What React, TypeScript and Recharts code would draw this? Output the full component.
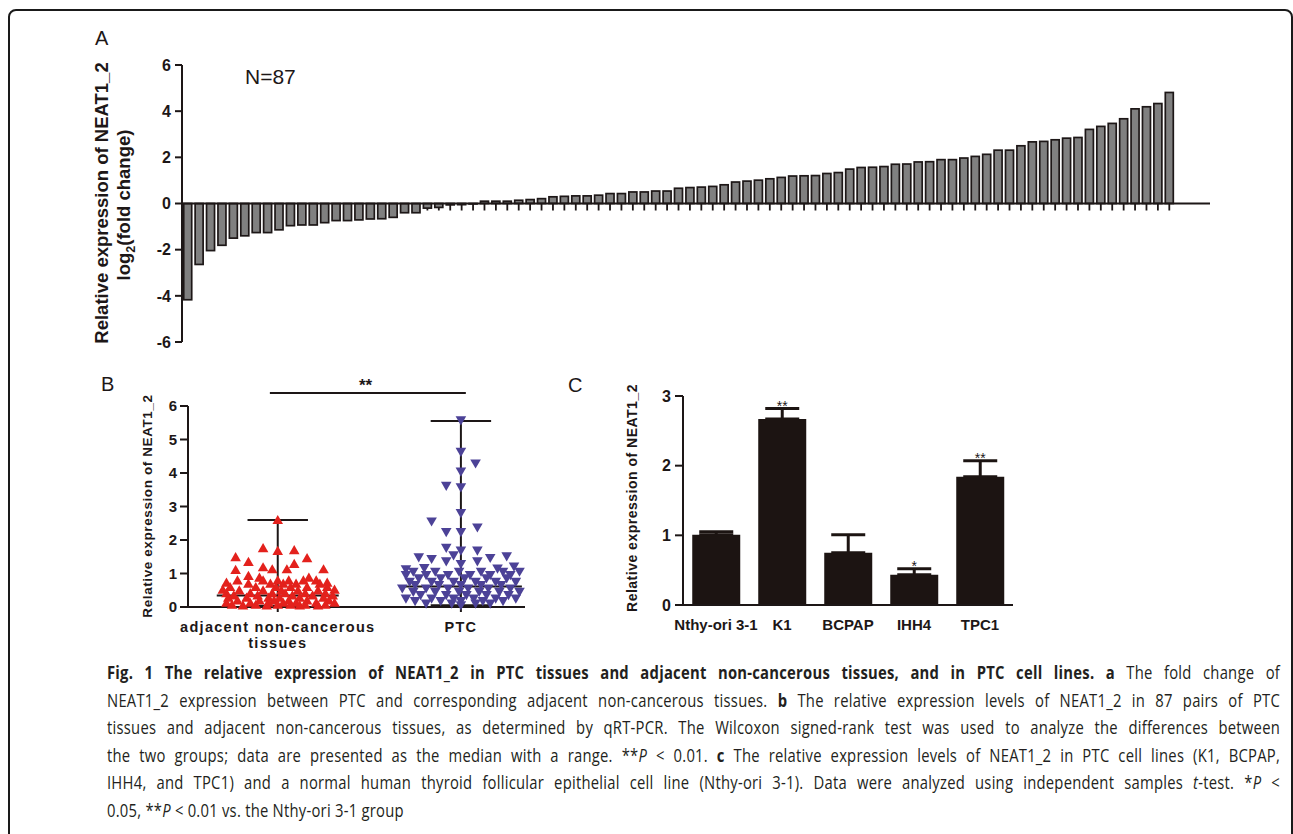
import React from 'react'
import {
  BarChart,
  Bar,
  XAxis,
  YAxis,
  ReferenceLine,
  ScatterChart,
  Scatter,
  ErrorBar,
  LabelList,
} from 'recharts'

const FONT = '"Liberation Sans", Arial, Helvetica, sans-serif'
const INK = '#1d1717'

// A: log2(fold change) of NEAT1_2, PTC vs adjacent tissue, sorted
const foldChanges = [
  -4.17, -2.64, -2.04, -1.81, -1.5, -1.4, -1.26, -1.26, -1.14, -0.96,
  -0.93, -0.93, -0.83, -0.74, -0.74, -0.71, -0.67, -0.66, -0.6, -0.4,
  -0.4, -0.2, -0.17, -0.06, -0.05, -0.02,
  0.1, 0.1, 0.1, 0.14, 0.17, 0.21, 0.29, 0.31, 0.33, 0.33,
  0.36, 0.43, 0.43, 0.5, 0.5, 0.54, 0.54, 0.66, 0.69, 0.71,
  0.74, 0.81, 0.93, 0.97, 1.01, 1.07, 1.13, 1.19, 1.2, 1.21,
  1.3, 1.34, 1.49, 1.56, 1.57, 1.6, 1.7, 1.71, 1.8, 1.81,
  1.9, 1.9, 1.97, 2.04, 2.13, 2.31, 2.31, 2.5, 2.67, 2.69,
  2.76, 2.83, 2.86, 3.21, 3.34, 3.47, 3.67, 4.1, 4.19, 4.33, 4.81,
]
const foldTicks = [-6, -4, -2, 0, 2, 4, 6]

// B: scatter, [jitter, value] per sample
const groupNames = [['adjacent non-cancerous', 'tissues'], ['PTC']]
const groupMedians = [0.34, 0.61]
const groupRanges = [[0.04, 2.6], [0.05, 5.55]]
const adjacentPoints: [number, number][] = [
  [0, 2.6], [-0.08, 1.76], [0, 1.68], [0.09, 1.7], [-0.23, 1.49], [-0.16, 1.35], [0.16, 1.46],
  [-0.23, 1.11], [-0.08, 1.19], [-0.03, 1.13], [0.05, 1.13], [0.09, 1.29], [0.25, 1.13], [-0.16, 0.93],
  [-0.1, 0.88], [0.17, 0.88],
  [-0.22, 0.8], [-0.08, 0.8], [0, 0.8], [0.06, 0.8], [0.14, 0.8], [0.21, 0.8],
  [-0.28, 0.73], [0.27, 0.73],
  [-0.16, 0.7], [-0.04, 0.7], [0.03, 0.7], [0.1, 0.7], [0.23, 0.7],
  [-0.26, 0.6], [-0.12, 0.6], [-0.01, 0.6], [0.07, 0.6], [0.16, 0.6], [0.27, 0.6],
  [-0.3, 0.52], [0.31, 0.52],
  [-0.21, 0.5], [-0.08, 0.5], [0.02, 0.5], [0.11, 0.5], [0.22, 0.5],
  [-0.28, 0.42], [-0.15, 0.42], [-0.03, 0.42], [0.04, 0.42], [0.15, 0.42], [0.26, 0.42],
  [-0.24, 0.35], [-0.11, 0.35], [0.08, 0.35], [0.19, 0.35], [0.3, 0.35],
  [-0.27, 0.28], [-0.17, 0.28], [-0.05, 0.28], [0.01, 0.28], [0.12, 0.28], [0.25, 0.28],
  [-0.22, 0.2], [-0.1, 0.2], [-0.02, 0.2], [0.06, 0.2], [0.16, 0.2], [0.28, 0.2],
  [-0.28, 0.13], [-0.15, 0.13], [-0.05, 0.13], [0.03, 0.13], [0.1, 0.13], [0.21, 0.13], [0.31, 0.13],
  [-0.25, 0.07], [-0.12, 0.07], [0, 0.07], [0.07, 0.07], [0.15, 0.07], [0.26, 0.07],
  [-0.19, 0.05], [-0.06, 0.05], [0.12, 0.05], [0.22, 0.05],
]
const ptcPoints: [number, number][] = [
  [0, 5.57], [0, 4.63], [0.08, 4.28], [0, 4.04], [-0.08, 3.61], [0, 3.57], [0, 2.8],
  [-0.16, 2.55], [-0.08, 2.23], [0, 2.23], [0.09, 2.37], [-0.08, 1.76], [0, 1.68], [0.09, 1.68],
  [-0.04, 1.54], [-0.23, 1.48], [-0.16, 1.43], [0.09, 1.36], [0.16, 1.46], [0.25, 1.51],
  [-0.08, 1.36], [0, 1.28], [-0.2, 1.16], [0.2, 1.14], [-0.3, 1.12], [0.29, 1.2],
  [-0.26, 1.05], [-0.14, 1.05], [-0.01, 1.05], [0.11, 1.05], [0.23, 1.05], [0.32, 1.05],
  [-0.3, 0.95], [-0.19, 0.95], [-0.07, 0.95], [0.05, 0.95], [0.16, 0.95], [0.27, 0.95],
  [-0.23, 0.85], [-0.11, 0.85], [0.02, 0.85], [0.14, 0.85], [0.25, 0.85],
  [-0.28, 0.75], [-0.16, 0.75], [-0.04, 0.75], [0.08, 0.75], [0.19, 0.75], [0.3, 0.75],
  [-0.25, 0.65], [-0.12, 0.65], [0, 0.65], [0.11, 0.65], [0.22, 0.65],
  [-0.32, 0.55], [-0.19, 0.55], [-0.07, 0.55], [0.04, 0.55], [0.15, 0.55], [0.27, 0.55],
  [-0.26, 0.45], [-0.14, 0.45], [-0.01, 0.45], [0.1, 0.45], [0.21, 0.45], [0.32, 0.45],
  [-0.22, 0.35], [-0.08, 0.35], [0.03, 0.35], [0.14, 0.35], [0.26, 0.35],
  [-0.3, 0.25], [-0.16, 0.25], [-0.04, 0.25], [0.07, 0.25], [0.19, 0.25], [0.3, 0.25],
  [-0.25, 0.17], [-0.11, 0.17], [0, 0.17], [0.12, 0.17], [0.23, 0.17],
  [-0.19, 0.1], [-0.05, 0.1], [0.08, 0.1], [0.16, 0.1],
  [0, 0.05],
]
const scatterTicks = [0, 1, 2, 3, 4, 5, 6]

// C: cell lines, mean + SD (upper only)
const cellLines = ['Nthy-ori 3-1', 'K1', 'BCPAP', 'IHH4', 'TPC1']
const cellMeans = [1.01, 2.67, 0.75, 0.435, 1.84]
const cellErrors = [0.04, 0.15, 0.26, 0.085, 0.23]
const cellStars = ['', '**', '', '*', '**']
const cellTicks = [0, 1, 2, 3]

const foldData = foldChanges.map((fc, i) => ({ id: i + 1, fc }))
const adjacentData = adjacentPoints.map(([j, v]) => ({ x: 1 + j, y: v }))
const ptcData = ptcPoints.map(([j, v]) => ({ x: 2 + j, y: v }))
const cellData = cellLines.map((name, i) => ({
  name,
  mean: cellMeans[i],
  err: [0, cellErrors[i]],
}))

function FoldBar(props: any) {
  const { x, y, width, height, payload } = props
  const top = Math.min(y, y + height)
  const h = Math.abs(height)
  const base = payload.fc >= 0 ? top + h : top
  const cx = x + width / 2
  return (
    <g>
      <line x1={cx} x2={cx} y1={base} y2={base + 7} stroke={INK} strokeWidth={1.8} />
      <rect x={x} y={top} width={width} height={h} fill="#808080" stroke={INK} strokeWidth={1.7} />
    </g>
  )
}

const UpTriangle = (p: any) => (
  <polygon
    points={`${p.cx},${p.cy - 5} ${p.cx + 5.3},${p.cy + 4.2} ${p.cx - 5.3},${p.cy + 4.2}`}
    fill="#e3211c"
  />
)

const DownTriangle = (p: any) => (
  <polygon
    points={`${p.cx - 5.3},${p.cy - 4.2} ${p.cx + 5.3},${p.cy - 4.2} ${p.cx},${p.cy + 5}`}
    fill="#4c4297"
  />
)

function GroupTick(props: any) {
  const { x, y, payload } = props
  const lines = groupNames[payload.value - 1] || []
  return (
    <text x={x} y={y} textAnchor="middle" fill={INK} fontSize={14.5} fontWeight={700}
      fontFamily={FONT} letterSpacing={1.3}>
      {lines.map((l, i) => (
        <tspan key={i} x={x} dy={i === 0 ? 18 : 16}>{l}</tspan>
      ))}
    </text>
  )
}

const renderStar = (props: any) => {
  const { x, y, width, height, index } = props
  const star = cellStars[index]
  if (!star) return null
  const pxPerUnit = Math.abs(height) / cellMeans[index]
  const capY = y - cellErrors[index] * pxPerUnit
  return (
    <text x={x + width / 2} y={capY + 2} textAnchor="middle" fontSize={14}
      fill={INK} fontFamily={FONT}>
      {star}
    </text>
  )
}

const axisLine = { stroke: INK, strokeWidth: 2 }
const tickStyle = (size: number) => ({ fill: INK, fontSize: size, fontWeight: 700, fontFamily: FONT })

function Rotated({ cx, cy, size, children, spacing = 0 }: any) {
  return (
    <div style={{
      position: 'absolute', left: cx, top: cy, whiteSpace: 'nowrap',
      transform: 'translate(-50%, -50%) rotate(-90deg)', fontSize: size,
      fontWeight: 700, fontFamily: FONT, color: INK, letterSpacing: spacing, lineHeight: 1,
    }}>
      {children}
    </div>
  )
}

function Tag({ left, top, size, children }: any) {
  return (
    <div style={{ position: 'absolute', left, top, fontSize: size, fontFamily: FONT, color: INK, lineHeight: 1 }}>
      {children}
    </div>
  )
}

// caption: Open Sans squeezed horizontally to imitate the condensed journal face
const SQUEEZE = 0.8
const captionStyle: React.CSSProperties = {
  position: 'absolute', left: 107, width: 1173 / SQUEEZE, fontFamily: '"Open Sans", sans-serif',
  fontSize: 18.5, lineHeight: '27.6px', color: '#231f20', whiteSpace: 'nowrap',
  letterSpacing: 0.3, textAlign: 'justify', textAlignLast: 'justify',
  transform: `scaleX(${SQUEEZE})`, transformOrigin: 'left top',
}

export default function App() {
  return (
    <div style={{ position: 'absolute', left: 0, top: 0, width: 1293, height: 834, overflow: 'hidden', background: '#fff' }}>
      <div style={{
        position: 'absolute', left: 8, top: 9, width: 1285, height: 900, boxSizing: 'border-box',
        border: '2px solid #1a1a1a', borderRadius: 8,
      }} />

      {/* Panel A */}
      <Tag left={95} top={28} size={20}>A</Tag>
      <Tag left={245} top={66} size={21}>N=87</Tag>
      <Rotated cx={102} cy={203} size={18.5}>Relative expression of NEAT1_2</Rotated>
      <Rotated cx={126} cy={205} size={18.5}>log<sub style={{ fontSize: 12.5 }}>2</sub>(fold change)</Rotated>
      <div style={{ position: 'absolute', left: 0, top: 0 }}>
        <BarChart width={1230} height={360} data={foldData}
          margin={{ top: 65, right: 20, bottom: 18, left: 0 }} barCategoryGap="15%">
          <XAxis dataKey="id" hide padding={{ left: 0, right: 35 }} />
          <YAxis width={182} domain={[-6, 6]} ticks={foldTicks} allowDataOverflow
            axisLine={axisLine} tickLine={axisLine} tickSize={7} tickMargin={4} tick={tickStyle(16)} />
          <Bar dataKey="fc" shape={<FoldBar />} isAnimationActive={false} />
          <ReferenceLine y={0} stroke={INK} strokeWidth={2} />
        </BarChart>
      </div>

      {/* Panel B */}
      <Tag left={101} top={374} size={20}>B</Tag>
      <Rotated cx={148} cy={506} size={13.5} spacing={0.6}>Relative expression of NEAT1_2</Rotated>
      <div style={{ position: 'absolute', left: 359, top: 377, fontSize: 17, fontWeight: 700, fontFamily: FONT, color: INK, lineHeight: 1 }}>**</div>
      <div style={{ position: 'absolute', left: 0, top: 370 }}>
        <ScatterChart width={540} height={280} margin={{ top: 36, right: 15, bottom: 0, left: 0 }}>
          <XAxis type="number" dataKey="x" domain={[0.51, 2.35]} ticks={[1, 2]} height={43}
            axisLine={axisLine} tickLine={axisLine} tickSize={5}
            tick={(p: any) => <GroupTick {...p} />} />
          <YAxis type="number" dataKey="y" domain={[0, 6]} ticks={scatterTicks} width={188}
            axisLine={axisLine} tickLine={axisLine} tickSize={8} tickMargin={3} tick={tickStyle(15)} />
          <Scatter data={adjacentData} shape={UpTriangle} isAnimationActive={false} />
          <Scatter data={ptcData} shape={DownTriangle} isAnimationActive={false} />
          {groupMedians.map((m, i) => (
            <ReferenceLine key={'med' + i} segment={[{ x: i + 1 - 0.333, y: m }, { x: i + 1 + 0.333, y: m }]}
              stroke={INK} strokeWidth={2} />
          ))}
          {groupRanges.map(([lo, hi], i) => (
            <ReferenceLine key={'rng' + i} segment={[{ x: i + 1, y: lo }, { x: i + 1, y: hi }]}
              stroke={INK} strokeWidth={2} />
          ))}
          {groupRanges.map(([lo, hi], i) => [lo, hi].map((v, k) => (
            <ReferenceLine key={'cap' + i + k} segment={[{ x: i + 1 - 0.165, y: v }, { x: i + 1 + 0.165, y: v }]}
              stroke={INK} strokeWidth={2} />
          )))}
          <ReferenceLine segment={[{ x: 0.957, y: 6.39 }, { x: 2.027, y: 6.39 }]} ifOverflow="visible"
            stroke={INK} strokeWidth={2} />
        </ScatterChart>
      </div>

      {/* Panel C */}
      <Tag left={568} top={375} size={20}>C</Tag>
      <Rotated cx={632} cy={498} size={14} spacing={0.5}>Relative expression of NEAT1_2</Rotated>
      <div style={{ position: 'absolute', left: 560, top: 370 }}>
        <BarChart width={480} height={270} data={cellData}
          margin={{ top: 26, right: 27, bottom: 0, left: 0 }} barCategoryGap="14%">
          <XAxis dataKey="name" height={35} axisLine={axisLine} tickLine={false} tickMargin={8}
            tick={tickStyle(15)} interval={0} />
          <YAxis width={123} domain={[0, 3]} ticks={cellTicks} allowDataOverflow
            axisLine={axisLine} tickLine={axisLine} tickSize={8} tickMargin={4} tick={tickStyle(16)} />
          <Bar dataKey="mean" fill="#1c1412" isAnimationActive={false}>
            <ErrorBar dataKey="err" direction="y" width={17} stroke="#1c1412" strokeWidth={3} />
            <LabelList dataKey="mean" content={renderStar} />
          </Bar>
        </BarChart>
      </div>

      {/* caption */}
      <div style={{ ...captionStyle, top: 658 }}>
        <b>Fig. 1 The relative expression of NEAT1_2 in PTC tissues and adjacent non-cancerous tissues, and in PTC cell lines. a</b> The fold change of
      </div>
      <div style={{ ...captionStyle, top: 685.6 }}>
        NEAT1_2 expression between PTC and corresponding adjacent non-cancerous tissues. <b>b</b> The relative expression levels of NEAT1_2 in 87 pairs of PTC
      </div>
      <div style={{ ...captionStyle, top: 713.2 }}>
        tissues and adjacent non-cancerous tissues, as determined by qRT-PCR. The Wilcoxon signed-rank test was used to analyze the differences between
      </div>
      <div style={{ ...captionStyle, top: 740.8 }}>
        the two groups; data are presented as the median with a range. **<i>P</i> &lt; 0.01. <b>c</b> The relative expression levels of NEAT1_2 in PTC cell lines (K1, BCPAP,
      </div>
      <div style={{ ...captionStyle, top: 768.4 }}>
        IHH4, and TPC1) and a normal human thyroid follicular epithelial cell line (Nthy-ori 3-1). Data were analyzed using independent samples <i>t</i>-test. *<i>P</i> &lt;
      </div>
      <div style={{ ...captionStyle, top: 796, textAlignLast: 'left' }}>
        0.05, **<i>P</i> &lt; 0.01 vs. the Nthy-ori 3-1 group
      </div>
    </div>
  )
}
